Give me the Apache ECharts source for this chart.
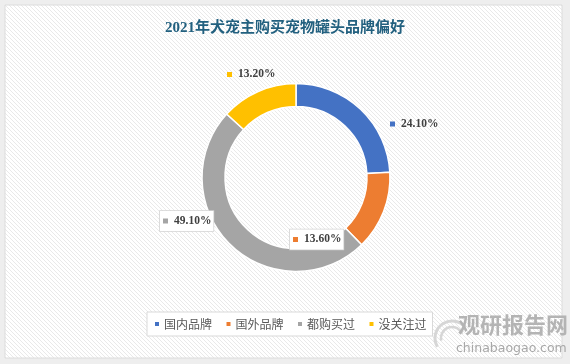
<!DOCTYPE html>
<html><head><meta charset="utf-8">
<script src="https://cdn.jsdelivr.net/npm/echarts@6/dist/echarts.min.js"></script>
<style>html,body{margin:0;padding:0;background:#fff}#c{width:570px;height:364px}</style>
</head><body><div id="c"></div>
<script>
const titleText = '2021年犬宠主购买宠物罐头品牌偏好';
const categories = ['国内品牌', '国外品牌', '都购买过', '没关注过'];
const values = [24.1, 13.6, 49.1, 13.2];
const colors = ['#4472C4', '#ED7D31', '#A5A5A5', '#FFC000'];
// label anchor points (left edge, vertical middle) for each slice label
const labelAnchors = [[390, 124], [290, 239.5], [160, 221], [227, 74.5]];
const boxedLabels = [false, true, true, false];

// diagonal hatch pattern for the panel background
const pc = document.createElement('canvas');
pc.width = 4; pc.height = 4;
const g = pc.getContext('2d');
g.fillStyle = '#ffffff'; g.fillRect(0, 0, 4, 4);
g.strokeStyle = '#e9e9e9'; g.lineWidth = 1;
g.beginPath(); g.moveTo(-1, -1); g.lineTo(5, 5); g.stroke();

const rich = {
  v: { fontFamily: 'Liberation Serif', fontWeight: 'bold', fontSize: 11.5, color: '#404040', padding: [0, 0, 0, 6] }
};
colors.forEach((c, i) => { rich['s' + i] = { width: 5, height: 5, backgroundColor: c }; });

const data = categories.map((name, i) => {
  const item = { name: name, value: values[i], itemStyle: { color: colors[i] } };
  if (boxedLabels[i]) {
    item.label = { backgroundColor: '#ffffff', borderColor: '#d4d4d4', borderWidth: 0.8, padding: [4, 2, 4, 3] };
  }
  return item;
});

const chart = echarts.init(document.getElementById('c'), null, { renderer: 'canvas' });
chart.setOption({
  animation: false,
  backgroundColor: '#eeeeee',
  graphic: [
    { type: 'rect', z: -10, shape: { x: 5, y: 5, width: 557, height: 353 },
      style: { fill: { image: pc, repeat: 'repeat' }, stroke: '#dcdcdc', lineWidth: 1 } },
    { type: 'arc', z: 10, shape: { cx: 452, cy: 338, r: 17, startAngle: 2.6, endAngle: 5.6 },
      style: { stroke: '#d6d6d6', lineWidth: 3, fill: null } },
    { type: 'arc', z: 10, shape: { cx: 452, cy: 338, r: 11, startAngle: 2.9, endAngle: 5.9 },
      style: { stroke: '#d6d6d6', lineWidth: 2.5, fill: null } },
    { type: 'text', z: 10, left: 458, top: 314,
      style: { text: '观研报告网', font: 'bold 22px "Noto Sans CJK SC"', fill: '#b4b4b4' } },
    { type: 'text', z: 10, left: 456, top: 342,
      style: { text: 'chinabaogao.com', font: '12.5px "DejaVu Sans"', fill: '#a8a8a8' } }
  ],
  title: {
    text: titleText, left: 'center', top: 16,
    textStyle: { fontFamily: 'Liberation Serif, "Noto Sans CJK SC"', fontWeight: 'bold', fontSize: 15, color: '#22607f' }
  },
  legend: {
    data: categories, left: 147, top: 312, orient: 'horizontal',
    icon: 'rect', itemWidth: 6, itemHeight: 6, itemGap: 12.5,
    padding: [6, 6], backgroundColor: '#ffffff', borderColor: '#d9d9d9', borderWidth: 1,
    textStyle: { fontFamily: '"Noto Sans CJK SC"', fontSize: 12, color: '#595959', padding: [0, 0, 0, -1] }
  },
  series: [{
    type: 'pie',
    center: [296, 177.5],
    radius: [71, 94],
    startAngle: 90,
    clockwise: true,
    data: data,
    itemStyle: { borderColor: '#ffffff', borderWidth: 1.5 },
    emphasis: { disabled: true },
    label: {
      show: true, position: 'outside',
      formatter: p => '{s' + p.dataIndex + '|}{v|' + p.value.toFixed(2) + '%}',
      rich: rich
    },
    labelLine: { show: false },
    labelLayout: p => ({ x: labelAnchors[p.dataIndex][0], y: labelAnchors[p.dataIndex][1], align: 'left', verticalAlign: 'middle' })
  }]
});
</script></body></html>
